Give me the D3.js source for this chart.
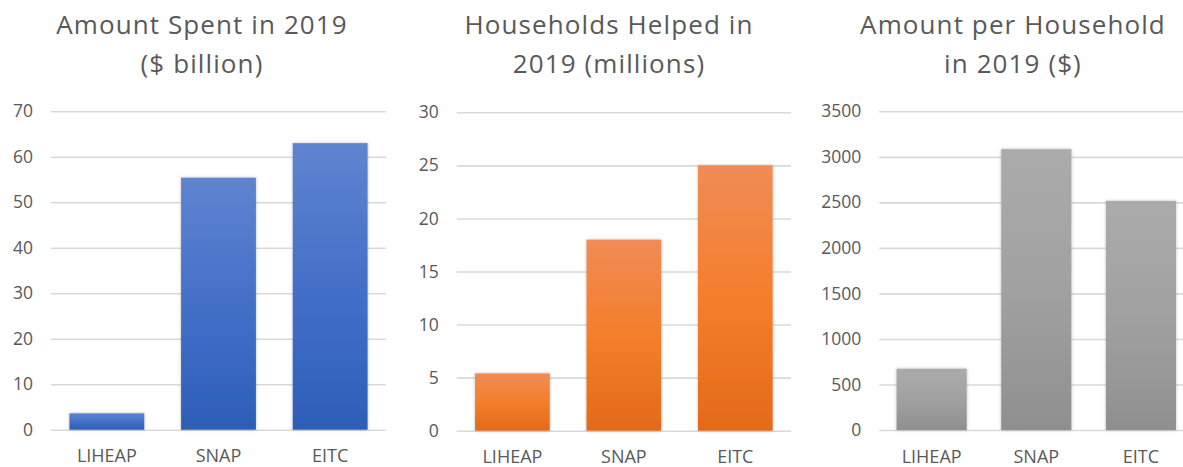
<!DOCTYPE html>
<html>
<head>
<meta charset="utf-8">
<script src="https://cdn.jsdelivr.net/npm/d3@7"></script>
<style>
  html, body { margin: 0; padding: 0; background: #fff; }
  svg { display: block; }
  text { font-family: "Open Sans", sans-serif; fill: #595959; }
</style>
</head>
<body>
<svg id="chart" width="1183" height="467"></svg>
<script>
// Programs compared in each panel
const categories = ["LIHEAP", "SNAP", "EITC"];

// Panel 1: amount spent in 2019 ($ billion)
const spentValues = [3.6, 55.4, 63];
const spentTicks = [0, 10, 20, 30, 40, 50, 60, 70];

// Panel 2: households helped in 2019 (millions)
const householdValues = [5.4, 18, 25];
const householdTicks = [0, 5, 10, 15, 20, 25, 30];

// Panel 3: amount per household in 2019 ($)
const perHouseholdValues = [673, 3084, 2516];
const perHouseholdTicks = [0, 500, 1000, 1500, 2000, 2500, 3000, 3500];

const svg = d3.select("#chart");
const defs = svg.append("defs");

// Soft outer shadow around the bars
const shadow = defs.append("filter").attr("id", "barShadow")
  .attr("x", "-20%").attr("y", "-20%").attr("width", "140%").attr("height", "140%");
shadow.append("feDropShadow")
  .attr("dx", 0).attr("dy", 0).attr("stdDeviation", 1.8)
  .attr("flood-color", "#000").attr("flood-opacity", 0.28);

// Vertical gradients for each series
function gradient(id, stops) {
  const g = defs.append("linearGradient").attr("id", id)
    .attr("x1", 0).attr("y1", 0).attr("x2", 0).attr("y2", 1);
  stops.forEach(([o, c]) => g.append("stop").attr("offset", o).attr("stop-color", c));
}
gradient("gBlue", [[0, "#5F84CE"], [0.5, "#4370C8"], [1, "#2D5EB7"]]);
gradient("gOrange", [[0, "#F08C56"], [0.5, "#F47E2B"], [1, "#E36A18"]]);
gradient("gGray", [[0, "#ABABAB"], [0.5, "#A1A1A1"], [1, "#8F8F8F"]]);

const panels = [
  { title: ["Amount Spent in 2019", "($ billion)"], titleX: 202,
    values: spentValues, ticks: spentTicks,
    x0: 51, x1: 386, y0: 429.7, y1: 111.3, fill: "url(#gBlue)" },
  { title: ["Households Helped in", "2019 (millions)"], titleX: 609,
    values: householdValues, ticks: householdTicks,
    x0: 456.7, x1: 791, y0: 430.7, y1: 112.3, fill: "url(#gOrange)" },
  { title: ["Amount per Household", "in 2019 ($)"], titleX: 1013,
    values: perHouseholdValues, ticks: perHouseholdTicks,
    x0: 879.3, x1: 1193.3, y0: 430, y1: 111.3, fill: "url(#gGray)" }
];

panels.forEach(p => {
  const g = svg.append("g");
  const maxTick = p.ticks[p.ticks.length - 1];

  const x = d3.scaleBand().domain(categories)
    .range([p.x0, p.x1]).paddingInner(0.33).paddingOuter(0.165);
  const y = d3.scaleLinear().domain([0, maxTick]).range([p.y0, p.y1]);

  // Horizontal gridlines
  const grid = g.append("g").attr("transform", `translate(${p.x0},0)`)
    .call(d3.axisLeft(y).tickValues(p.ticks).tickSize(-(p.x1 - p.x0)).tickFormat(""));
  grid.select(".domain").remove();
  grid.selectAll("line").attr("stroke", "#D9D9D9").attr("stroke-width", 1.6);

  // Value axis labels
  const yAxis = g.append("g").attr("transform", `translate(${p.x0},0)`)
    .call(d3.axisLeft(y).tickValues(p.ticks).tickSize(0).tickPadding(18).tickFormat(d3.format("d")));
  yAxis.select(".domain").remove();
  yAxis.selectAll("text").attr("font-size", 17.5).attr("fill", "#595959")
    .attr("font-family", "'Open Sans', sans-serif");

  // Bars
  g.append("g").selectAll("rect")
    .data(p.values)
    .join("rect")
    .attr("x", (d, i) => x(categories[i]))
    .attr("width", x.bandwidth())
    .attr("y", d => y(d))
    .attr("height", d => y(0) - y(d))
    .attr("fill", p.fill)
    .attr("filter", "url(#barShadow)");

  // Category axis labels
  const xAxis = g.append("g").attr("transform", `translate(0,${p.y0})`)
    .call(d3.axisBottom(x).tickSize(0).tickPadding(20));
  xAxis.select(".domain").remove();
  xAxis.selectAll("text").attr("font-size", 18).attr("fill", "#595959")
    .attr("font-family", "'Open Sans', sans-serif");

  // Two-line title
  g.append("text")
    .attr("x", p.titleX).attr("y", 34)
    .attr("text-anchor", "middle")
    .attr("font-size", 26)
    .attr("letter-spacing", 1.1)
    .selectAll("tspan")
    .data(p.title)
    .join("tspan")
    .attr("x", p.titleX)
    .attr("dy", (d, i) => i === 0 ? 0 : 38.5)
    .text(d => d);
});
</script>
</body>
</html>
